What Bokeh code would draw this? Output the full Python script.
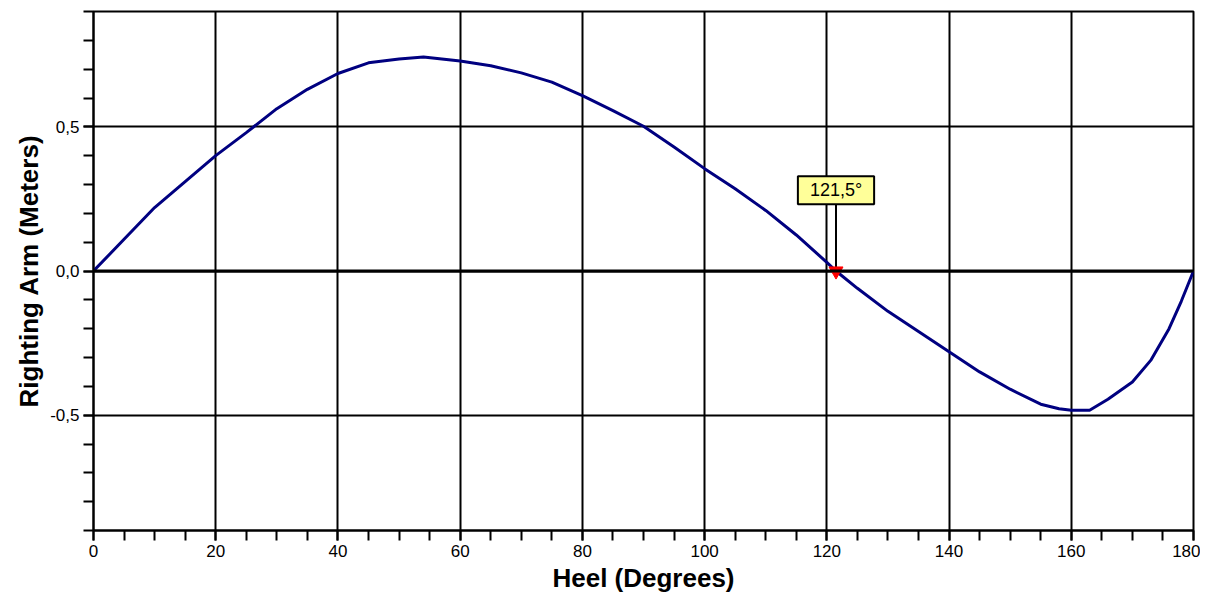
from bokeh.plotting import figure
from bokeh.models import (Range1d, SingleIntervalTicker, CustomJSTickFormatter,
                          Span, Label, ColumnDataSource)
from bokeh.embed import file_html
from bokeh.resources import INLINE

# ---- data ----
heel = [0, 5, 10, 15, 20, 25, 30, 35, 40, 45, 50, 54, 60, 65, 70, 75, 80, 85,
        90, 95, 100, 105, 110, 115, 120, 121.5, 125, 130, 135, 140, 145, 150,
        155, 158, 160, 163, 166, 170, 173, 176, 178, 180]
righting_arm = [0.0, 0.11, 0.22, 0.31, 0.40, 0.48, 0.563, 0.63, 0.685, 0.722,
                0.735, 0.742, 0.728, 0.712, 0.687, 0.655, 0.608, 0.556, 0.502,
                0.43, 0.355, 0.285, 0.21, 0.125, 0.03, 0.0, -0.06, -0.14, -0.21,
                -0.28, -0.35, -0.41, -0.462, -0.478, -0.483, -0.483, -0.445,
                -0.385, -0.31, -0.2, -0.105, 0.0]
vanishing_heel = [121.5]
vanishing_arm = [0.0]
vanishing_text = "121,5°"
x_title = "Heel (Degrees)"
y_title = "Righting Arm (Meters)"

FONT = "Liberation Sans"

p = figure(width=1200, height=595,
           x_range=Range1d(0, 180), y_range=Range1d(-0.9, 0.9),
           output_backend="svg", toolbar_location=None,
           min_border_left=93, min_border_right=7,
           min_border_top=11, min_border_bottom=61)
p.background_fill_color = "white"
p.border_fill_color = "white"
p.outline_line_color = "black"
p.outline_line_width = 2
p.outline_line_alpha = 1

# axes
xt = SingleIntervalTicker(interval=20, num_minor_ticks=4)
yt = SingleIntervalTicker(interval=0.5, num_minor_ticks=5)
p.xaxis.ticker = xt
p.yaxis.ticker = yt
p.xgrid.ticker = xt
p.ygrid.ticker = yt
p.yaxis.formatter = CustomJSTickFormatter(code="return tick.toFixed(1).replace('.', ',');")
p.xaxis.formatter = CustomJSTickFormatter(code="return tick.toFixed(0);")

for ax in (p.xaxis[0], p.yaxis[0]):
    ax.axis_line_color = "black"
    ax.axis_line_width = 2
    ax.major_tick_line_color = "black"
    ax.major_tick_line_width = 2
    ax.minor_tick_line_color = "black"
    ax.minor_tick_line_width = 2
    ax.major_tick_in = 0
    ax.major_tick_out = 10
    ax.minor_tick_in = 0
    ax.minor_tick_out = 10
    ax.major_label_text_font = FONT
    ax.major_label_text_font_size = "17px"
    ax.major_label_text_color = "black"
    ax.major_label_standoff = 4
    ax.axis_label_text_font = FONT
    ax.axis_label_text_font_size = "26px"
    ax.axis_label_text_font_style = "bold"
    ax.axis_label_text_color = "black"
    ax.axis_label_standoff = 3

p.xaxis.axis_label = x_title
p.yaxis.axis_label = y_title

for g in (p.xgrid[0], p.ygrid[0]):
    g.grid_line_color = "black"
    g.grid_line_width = 2
    g.grid_line_alpha = 1

p.add_layout(Span(location=0, dimension="width", line_color="black", line_width=3))

src = ColumnDataSource(dict(x=heel, y=righting_arm))
p.line("x", "y", source=src, line_color="#000080", line_width=3)

# vanishing stability marker
p.segment(x0=vanishing_heel, y0=vanishing_arm, x1=vanishing_heel, y1=[0.236],
          line_color="black", line_width=2)
p.scatter(x=vanishing_heel, y=vanishing_arm, marker="inverted_triangle", size=14,
          fill_color="red", line_color="red")
p.add_layout(Label(x=vanishing_heel[0], y=0.28, text=vanishing_text,
                   text_align="center", text_baseline="middle",
                   text_font=FONT, text_font_size="18px", text_color="black",
                   background_fill_color="#FFFF99", background_fill_alpha=1,
                   border_line_color="black", border_line_width=2,
                   padding=dict(left=12, right=12, top=4, bottom=4)))

open("out.html", "w").write(file_html(p, INLINE))
